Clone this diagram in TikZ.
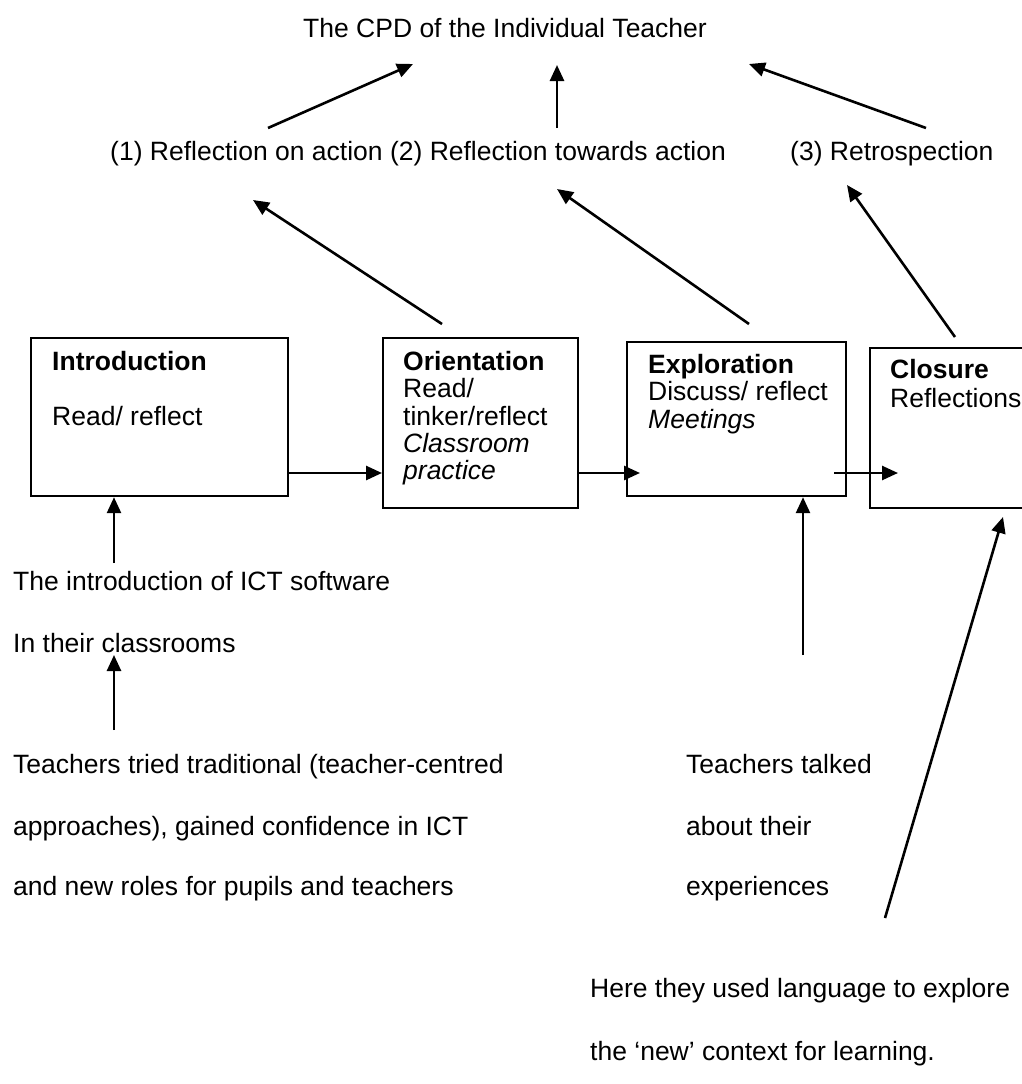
\documentclass[tikz,border=0pt]{standalone}
\usepackage{fontspec}
\setmainfont{Liberation Sans}
\usetikzlibrary{arrows.meta}
\begin{document}
\begin{tikzpicture}[x=1pt,y=-1pt,
  txt/.style={inner sep=0pt, anchor=base west, font=\fontsize{26.5pt}{27.5pt}\selectfont},
  head/.style={txt, font=\fontsize{26.5pt}{27.5pt}\selectfont\bfseries},
  note/.style={txt, font=\fontsize{26.5pt}{27.5pt}\selectfont\itshape},
  stage/.style={draw, line width=2.2pt, anchor=north west, inner sep=0pt},
  link/.style={line width=2.6pt, -{Triangle[length=16pt,width=14pt]}}]
\useasboundingbox (0,0) rectangle (1021,1084);

% --- top: the goal and the three kinds of reflection
\node[txt, anchor=base] (cpd) at (505,37) {The CPD of the Individual Teacher};
\node[txt] (refl) at (110,160) {(1) Reflection on action (2) Reflection towards action};
\node[txt] (retro) at (790,160) {(3) Retrospection};

\coordinate (cpdL) at (413,64);
\coordinate (cpdM) at (557,65);
\coordinate (cpdR) at (749,64);
\coordinate (reflA) at (268,128);
\coordinate (reflB) at (557,128);
\coordinate (retroT) at (926,128);
\draw[link] (reflA) -- (cpdL);
\draw[link] (reflB) -- (cpdM);
\draw[link] (retroT) -- (cpdR);

% --- the four stages
\node[stage, minimum width=257pt, minimum height=158pt] (intro) at (30,337) {};
\node[stage, minimum width=195pt, minimum height=170pt] (orient) at (382,337) {};
\node[stage, minimum width=219pt, minimum height=154pt] (explor) at (626,341) {};
\node[stage, minimum width=200pt, minimum height=160pt] (closure) at (869,347) {};

\node[head] (introH) at (52,370) {Introduction};
\node[txt] (introB) at (52,425) {Read/ reflect};

\node[head] (orientH) at (403,370) {Orientation};
\node[txt] (orientB1) at (403,397) {Read/};
\node[txt] (orientB2) at (403,425) {tinker/reflect};
\node[note] (orientB3) at (403,452) {Classroom};
\node[note] (orientB4) at (403,479) {practice};

\node[head] (explorH) at (648,373) {Exploration};
\node[txt] (explorB1) at (648,400) {Discuss/ reflect};
\node[note] (explorB2) at (648,428) {Meetings};

\node[head] (closureH) at (890,378) {Closure};
\node[txt] (closureB) at (890,407) {Reflections};

% stage sequence
\coordinate (explorIn) at (640,473);
\coordinate (explorOut) at (834,473);
\coordinate (closureIn) at (898,473);
\draw[link] (intro.east |- 0,473) -- (orient.west |- 0,473);
\draw[link] (orient.east |- 0,473) -- (explorIn);
\draw[link] (explorOut) -- (closureIn);

% stages feeding the reflections
\coordinate (orientTop) at (442,324);
\coordinate (explorTop) at (749,324);
\coordinate (closureTop) at (955,337);
\coordinate (reflOn) at (253,200);
\coordinate (reflTo) at (557,189);
\coordinate (retroB) at (847,185);
\draw[link] (orientTop) -- (reflOn);
\draw[link] (explorTop) -- (reflTo);
\draw[link] (closureTop) -- (retroB);

% --- left column
\node[txt] (ict1) at (13,590) {The introduction of ICT software};
\node[txt] (ict2) at (13,652) {In their classrooms};
\node[txt] (tried1) at (13,773) {Teachers tried traditional (teacher-centred};
\node[txt] (tried2) at (13,835) {approaches), gained confidence in ICT};
\node[txt] (tried3) at (13,895) {and new roles for pupils and teachers};

\coordinate (ictTop) at (114,563);
\coordinate (ictBot) at (114,655);
\coordinate (triedTop) at (114,730);
\draw[link] (ictTop) -- (intro.south -| ictTop);
\draw[link] (triedTop) -- (ictBot);

% --- right column
\node[txt] (talk1) at (686,773) {Teachers talked};
\node[txt] (talk2) at (686,835) {about their};
\node[txt] (talk3) at (686,895) {experiences};
\coordinate (talkTop) at (803,655);
\draw[link] (talkTop) -- (explor.south -| talkTop);

\node[txt] (lang1) at (590,997) {Here they used language to explore};
\node[txt] (lang2) at (590,1060) {the ‘new’ context for learning.};
\coordinate (langTop) at (885,918);
\coordinate (closureFoot) at (1003,517);
\draw[link] (langTop) -- (closureFoot);
\end{tikzpicture}
\end{document}
